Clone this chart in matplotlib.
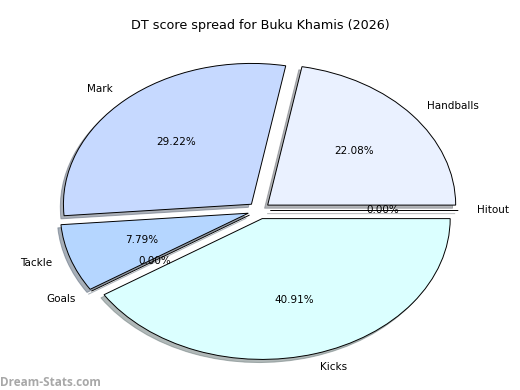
import matplotlib
matplotlib.use('Agg')
import matplotlib.pyplot as plt

# DT score breakdown
categories = ['Handballs', 'Mark', 'Tackle', 'Goals', 'Kicks', 'Hitout']
shares = [22.08, 29.22, 7.79, 0.00, 40.91, 0.00]
colours = ['#eaf1ff', '#c6d9ff', '#b5d6ff', '#c0e0ff', '#dbffff', '#f0f8ff']

fig = plt.figure(figsize=(5.2, 3.9), dpi=100)
ax = fig.add_axes([24 / 520, 3.5 / 390, 470 / 520, 352 / 390])

ax.pie(shares, labels=categories, colors=colours, explode=[0.06] * len(shares),
       autopct='%1.2f%%', startangle=0,
       shadow={'ox': -0.012, 'oy': -0.016, 'shade': 0.55},
       wedgeprops={'edgecolor': 'black', 'linewidth': 0.7},
       textprops={'fontsize': 7.5})
ax.set_aspect('auto')
ax.set_xlim(-1.25, 1.25)
ax.set_ylim(-1.25, 1.25)

fig.suptitle('DT score spread for Buku Khamis (2026)', fontsize=9.2, y=0.95)
fig.text(0.0, 0.01, 'Dream-Stats.com', color='#a8a8a8', fontsize=8.5,
         fontweight='bold', family='Open Sans')

fig.savefig('out.png', dpi=100)
plt.close(fig)
